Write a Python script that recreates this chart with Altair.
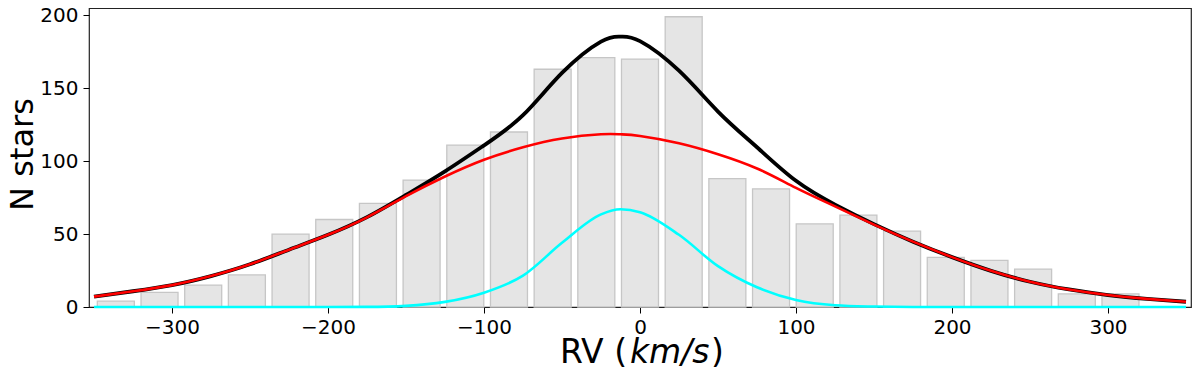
import altair as alt
import pandas as pd

# Histogram bins (bin centres, km/s) and counts
bin_centers = [-336, -308, -280, -252, -224, -196, -168, -140, -112, -84, -56, -28,
               0, 28, 56, 84, 112, 140, 168, 196, 224, 252, 280, 308]
counts = [4, 10, 15, 22, 50, 60, 71, 87, 111, 120, 163, 171,
          170, 199, 88, 81, 57, 63, 52, 34, 32, 26, 9, 9]

# Fitted curves
curve_x = [-350, -325, -300, -275, -250, -225, -200, -175, -150, -125, -100, -75, -50, -25,
           -12.5, 0, 25, 50, 75, 100, 125, 150, 175, 200, 225, 250, 275, 300, 325, 350]
red_curve = [7.1, 10.8, 15, 21.2, 29.3, 39.3, 49.5, 61.5, 76, 89.5, 101, 109.5, 115.5, 118.4,
             118.4, 117.3, 112.3, 104.8, 95, 81.7, 69, 56.5, 44.8, 34.2, 24.8, 17.3, 12, 8.2, 5.6, 3.6]
cyan_curve = [0, 0, 0, 0, 0, 0, 0, 0.1, 0.8, 3.5, 9.8, 21.5, 44, 63.5,
              67, 65, 49.5, 28, 13.5, 4.8, 1.2, 0.3, 0, 0, 0, 0, 0, 0, 0, 0]
black_curve = [7.1, 10.8, 15, 21.2, 29.3, 39.3, 49.5, 61.6, 76.8, 93, 110.8, 131.5, 160.5, 182,
               185.4, 182.3, 162, 134, 109.5, 86.5, 70.2, 56.8, 44.8, 34.2, 24.8, 17.3, 12, 8.2, 5.6, 3.6]

x_ticks = [-300, -200, -100, 0, 100, 200, 300]
y_ticks = [0, 25, 50, 75, 100, 125, 150, 175, 200]

FONT = "DejaVu Sans"

hist_df = pd.DataFrame({"rv": bin_centers, "n": counts})
curve_df = pd.DataFrame({"rv": curve_x, "red": red_curve, "cyan": cyan_curve, "black": black_curve})

x_scale = alt.Scale(domain=[-350, 350], nice=False, zero=False)
y_scale = alt.Scale(domain=[0, 205], nice=False)

x_axis = alt.Axis(values=x_ticks, title=None, grid=False, domain=False,
                  tickSize=6, tickColor="black", tickWidth=1,
                  labelFont=FONT, labelFontSize=20, labelColor="black", labelPadding=4)
y_axis = alt.Axis(values=y_ticks, title="N stars", grid=False, domain=False,
                  tickSize=6, tickColor="black", tickWidth=1,
                  labelFont=FONT, labelFontSize=20, labelColor="black", labelPadding=5,
                  titleFont=FONT, titleFontSize=32, titleFontWeight="normal", titleColor="black",
                  titleAngle=270, titleX=-57, titleY=146, titleAlign="center",
                  titleBaseline="alphabetic")

bars = alt.Chart(hist_df).mark_bar(size=37, color="#e5e5e5", stroke="#c6c6c6",
                                   strokeWidth=1.3).encode(
    x=alt.X("rv:Q", scale=x_scale, axis=x_axis),
    y=alt.Y("n:Q", scale=y_scale, axis=y_axis),
)

def curve(col, color, width, interp):
    return alt.Chart(curve_df).mark_line(color=color, strokeWidth=width,
                                         interpolate=interp).encode(
        x=alt.X("rv:Q", scale=x_scale),
        y=alt.Y(f"{col}:Q", scale=y_scale),
    )

black_line = curve("black", "black", 3.8, "natural")
red_line = curve("red", "#ff0000", 2.6, "natural")
cyan_line = curve("cyan", "#00ffff", 2.6, "monotone")

TITLE_SIZE = 33

def label(text, xpos, italic=False):
    return alt.Chart(pd.DataFrame({"t": [text]})).mark_text(
        font=FONT, fontSize=TITLE_SIZE, color="black", align="left", baseline="alphabetic",
        fontStyle="italic" if italic else "normal",
    ).encode(x=alt.value(xpos), y=alt.value(355), text="t:N")

title_parts = [label("RV (", 471), label("km/s", 541, italic=True), label(")", 622)]

chart = alt.layer(bars, black_line, red_line, cyan_line, *title_parts).properties(
    width=1102, height=299,
    padding={"left": 81, "top": 0, "right": 1, "bottom": 61},
    autosize="none",
).configure_view(stroke="#222222", strokeWidth=1.2)

chart.save("out.html", embed_options={"renderer": "svg", "actions": False})
